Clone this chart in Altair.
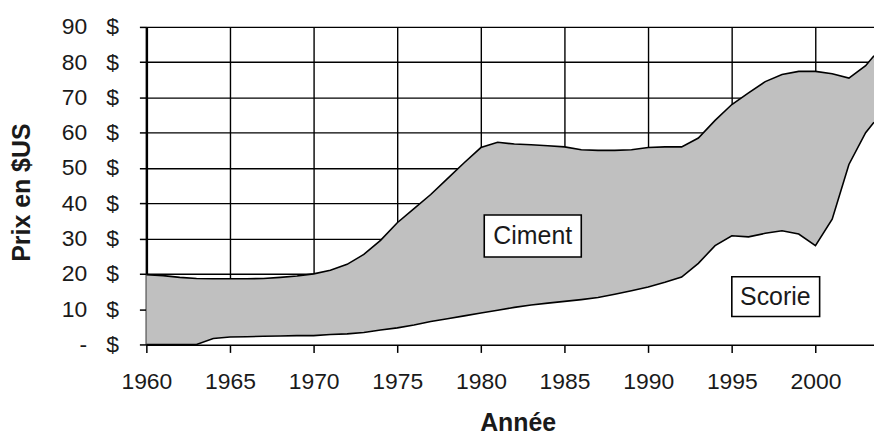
import altair as alt
import pandas as pd

# ---- data ----
years = [1960, 1961, 1962, 1963, 1964, 1965, 1966, 1967, 1968, 1969,
         1970, 1971, 1972, 1973, 1974, 1975, 1976, 1977, 1978, 1979,
         1980, 1981, 1982, 1983, 1984, 1985, 1986, 1987, 1988, 1989,
         1990, 1991, 1992, 1993, 1994, 1995, 1996, 1997, 1998, 1999,
         2000, 2001, 2002, 2003, 2003.5]
ciment = [19.8, 19.5, 19.0, 18.7, 18.6, 18.6, 18.6, 18.7, 19.0, 19.4,
          20.0, 21.0, 22.7, 25.5, 29.5, 34.5, 38.5, 42.5, 47.0, 51.5,
          55.8, 57.3, 56.8, 56.6, 56.3, 56.0, 55.2, 55.0, 55.0, 55.2,
          55.8, 56.0, 56.0, 58.5, 63.5, 68.0, 71.3, 74.5, 76.5, 77.4,
          77.4, 76.7, 75.5, 79.0, 81.8]
scorie = [0.0, 0.0, 0.0, 0.0, 1.7, 2.1, 2.2, 2.3, 2.4, 2.5,
          2.5, 2.8, 3.0, 3.4, 4.1, 4.7, 5.5, 6.5, 7.3, 8.1,
          8.9, 9.7, 10.5, 11.2, 11.7, 12.2, 12.7, 13.3, 14.2, 15.2,
          16.3, 17.6, 19.1, 23.0, 28.0, 30.8, 30.5, 31.5, 32.2, 31.3,
          28.0, 35.5, 51.0, 60.0, 63.0]

x_ticks = [1960, 1965, 1970, 1975, 1980, 1985, 1990, 1995, 2000]
y_ticks = [0, 10, 20, 30, 40, 50, 60, 70, 80, 90]

labels = ["Ciment", "Scorie"]
label_x = [1983.1, 1997.6]
label_y = [30.8, 13.5]
box_x1 = [1980.2, 1995.0]
box_x2 = [1986.0, 2000.25]
box_y1 = [24.8, 7.9]
box_y2 = [36.7, 19.2]

df = pd.DataFrame({"annee": years, "ciment": ciment, "scorie": scorie})
ann = pd.DataFrame({"label": labels, "lx": label_x, "ly": label_y,
                    "x1": box_x1, "x2": box_x2, "y1": box_y1, "y2": box_y2})

FONT = "Liberation Sans"
xscale = alt.Scale(domain=[1960, 2003.5], nice=False, zero=False)
yscale = alt.Scale(domain=[0, 90], nice=False)

xaxis = alt.Axis(values=x_ticks, format="d", labelFontSize=23, labelFont=FONT,
                 labelColor="#1a1a1a", labelFlush=False, labelOverlap=False,
                 labelPadding=18, tickSize=8, tickColor="black", tickWidth=1.5,
                 domainColor="black", domainWidth=2, gridColor="black",
                 gridWidth=1.4, title="Année", titleFont=FONT, titleFontSize=25,
                 titleFontWeight="bold", titleColor="#1a1a1a", titleX=373, titleY=78,
                 titleAlign="center", titleBaseline="middle")
yaxis = alt.Axis(values=y_ticks,
                 labelExpr="(datum.value == 0 ? '-' : datum.label) + '\u00a0\u00a0\u00a0$'",
                 labelFontSize=23, labelFont=FONT, labelColor="#1a1a1a",
                 labelOverlap=False, labelFlush=False,
                 labelPadding=21, tickSize=7, tickColor="black", tickWidth=1.5,
                 domainColor="black", domainWidth=2.5, gridColor="black",
                 gridWidth=1.4, title="Prix en $US", titleFont=FONT, titleFontSize=25,
                 titleFontWeight="bold", titleColor="#1a1a1a", titleX=-125, titleY=166,
                 titleAlign="center", titleBaseline="middle", titleAngle=270)

X = lambda f: alt.X(f, scale=xscale, axis=xaxis)
Y = lambda f: alt.Y(f, scale=yscale, axis=yaxis)

base = alt.Chart(df)

white = base.mark_area(color="white", opacity=1).encode(
    x=X("annee:Q"), y=Y("scorie:Q"))
gray = base.mark_area(color="#c0c0c0", opacity=1).encode(
    x=X("annee:Q"), y=Y("ciment:Q"), y2="scorie:Q")
line_c = base.mark_line(color="black", strokeWidth=1.6).encode(
    x=X("annee:Q"), y=Y("ciment:Q"))
line_s = base.mark_line(color="black", strokeWidth=1.6).encode(
    x=X("annee:Q"), y=Y("scorie:Q"))

boxes = alt.Chart(ann).mark_rect(fill="white", stroke="black", strokeWidth=1.6).encode(
    x=X("x1:Q"), x2="x2:Q", y=Y("y1:Q"), y2="y2:Q")
texts = alt.Chart(ann).mark_text(font=FONT, fontSize=25, color="#1a1a1a").encode(
    x=X("lx:Q"), y=Y("ly:Q"), text="label:N")

chart = alt.layer(white, gray, line_c, line_s, boxes, texts).properties(
    width=731, height=319,
    autosize=alt.AutoSizeParams(type="none"),
    padding={"left": 139, "top": 18, "right": 0, "bottom": 93},
    background="white",
).configure_view(stroke=None)

chart.save("out.html", embed_options={"renderer": "svg", "actions": False})
